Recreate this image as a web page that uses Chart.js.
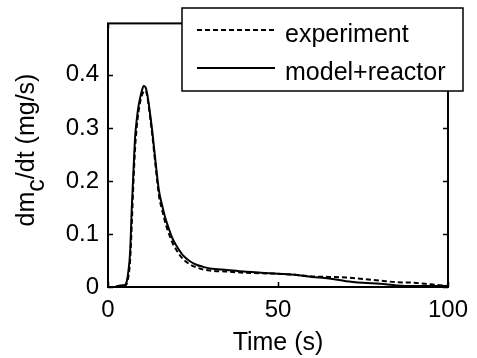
<!DOCTYPE html>
<html>
<head>
<meta charset="utf-8">
<script src="https://cdn.jsdelivr.net/npm/chart.js@4/dist/chart.umd.min.js"></script>
<style>
  html, body { margin: 0; padding: 0; background: #fff; }
  #wrap { width: 477px; height: 358px; }
</style>
</head>
<body>
<div id="wrap"><canvas id="chart" width="477" height="358"></canvas></div>
<script>
//data
const timeS = [0, 2, 3, 4, 5, 5.5, 6, 6.5, 7, 7.5, 8, 8.5, 9, 9.5, 10, 10.5, 11, 11.5, 12, 13, 14, 15, 16, 17, 18, 19, 20, 22, 24, 26, 28, 30, 35, 40, 45, 50, 55, 60, 65, 70, 75, 80, 85, 90, 95, 100];
const experiment = [0, 0, 0.002, 0.003, 0.003, 0.006, 0.02, 0.05, 0.12, 0.2, 0.265, 0.305, 0.332, 0.35, 0.362, 0.369, 0.37, 0.362, 0.34, 0.288, 0.228, 0.172, 0.143, 0.118, 0.099, 0.083, 0.071, 0.053, 0.043, 0.037, 0.033, 0.031, 0.029, 0.027, 0.026, 0.025, 0.023, 0.02, 0.019, 0.018, 0.015, 0.012, 0.009, 0.008, 0.005, 0.002];
const modelReactor = [0, 0, 0.002, 0.003, 0.004, 0.01, 0.03, 0.065, 0.15, 0.22, 0.285, 0.318, 0.342, 0.358, 0.371, 0.379, 0.377, 0.365, 0.345, 0.295, 0.235, 0.181, 0.152, 0.127, 0.108, 0.091, 0.079, 0.06, 0.049, 0.042, 0.038, 0.035, 0.032, 0.029, 0.027, 0.025, 0.023, 0.019, 0.016, 0.011, 0.008, 0.006, 0.003, 0.002, 0.002, 0.002];
const xTicks = [0, 50, 100];
const yTicks = [0, 0.1, 0.2, 0.3, 0.4];
const seriesNames = ["experiment", "model+reactor"];

const FONT = "'Liberation Sans', Arial, sans-serif";

function toPoints(ys) {
    return timeS.map((t, i) => ({ x: t, y: ys[i] }));
}

//frame, inward ticks, y title with subscript, legend box
const matlabLook = {
    id: "matlabLook",
    afterDraw(chart) {
        const ctx = chart.ctx;
        const a = chart.chartArea;
        const xs = chart.scales.x, ys = chart.scales.y;
        ctx.save();
        ctx.strokeStyle = "#000";
        ctx.lineWidth = 2;
        ctx.strokeRect(a.left, a.top, a.right - a.left, a.bottom - a.top);
        ctx.lineWidth = 1.5;
        ctx.beginPath();
        xTicks.forEach(v => {
            const p = Math.round(xs.getPixelForValue(v)) + 0.5;
            ctx.moveTo(p, a.bottom); ctx.lineTo(p, a.bottom - 5);
            ctx.moveTo(p, a.top); ctx.lineTo(p, a.top + 5);
        });
        yTicks.forEach(v => {
            const p = Math.round(ys.getPixelForValue(v)) + 0.5;
            ctx.moveTo(a.left, p); ctx.lineTo(a.left + 5, p);
            ctx.moveTo(a.right, p); ctx.lineTo(a.right - 5, p);
        });
        ctx.stroke();

        // y axis title: dm_c/dt (mg/s)
        ctx.fillStyle = "#000";
        ctx.font = "25px " + FONT;
        ctx.textBaseline = "alphabetic";
        ctx.textAlign = "left";
        const p1 = "dm", p2 = "c", p3 = "/dt (mg/s)";
        const w1 = ctx.measureText(p1).width, w2 = ctx.measureText(p2).width, w3 = ctx.measureText(p3).width;
        const total = w1 + w2 + w3;
        ctx.translate(34, 150);
        ctx.rotate(-Math.PI / 2);
        ctx.fillText(p1, -total / 2, 0);
        ctx.fillText(p2, -total / 2 + w1, 10);
        ctx.fillText(p3, -total / 2 + w1 + w2, 0);
        ctx.setTransform(1, 0, 0, 1, 0, 0);

        // legend
        const box = { l: 182, t: 8, r: 463, b: 91 };
        ctx.fillStyle = "#fff";
        ctx.fillRect(box.l, box.t, box.r - box.l, box.b - box.t);
        ctx.lineWidth = 1.5;
        ctx.strokeStyle = "#000";
        ctx.strokeRect(box.l, box.t, box.r - box.l, box.b - box.t);
        const rowY = [30, 68];
        chart.data.datasets.forEach((ds, i) => {
            ctx.beginPath();
            ctx.lineWidth = ds.borderWidth;
            ctx.setLineDash(ds.borderDash || []);
            ctx.moveTo(197, rowY[i]);
            ctx.lineTo(275, rowY[i]);
            ctx.stroke();
            ctx.setLineDash([]);
            ctx.fillStyle = "#000";
            ctx.font = "25px " + FONT;
            ctx.fillText(ds.label, 285, rowY[i] + 12);
        });
        ctx.restore();
    }
};

const chart = new Chart(document.getElementById("chart"), {
    type: "line",
    data: {
        datasets: [{
            label: seriesNames[0],
            data: toPoints(experiment),
            borderColor: "#000",
            borderWidth: 2,
            borderDash: [5, 3],
            pointRadius: 0,
            cubicInterpolationMode: "monotone"
        }, {
            label: seriesNames[1],
            data: toPoints(modelReactor),
            borderColor: "#000",
            borderWidth: 2,
            pointRadius: 0,
            cubicInterpolationMode: "monotone"
        }]
    },
    options: {
        responsive: false,
        animation: false,
        layout: { padding: { top: 12, right: 23, left: 0, bottom: 0 } },
        plugins: { legend: { display: false }, tooltip: { enabled: false } },
        scales: {
            x: {
                type: "linear",
                min: 0,
                max: 100,
                grid: { display: false, drawTicks: false },
                border: { display: false },
                afterBuildTicks: s => { s.ticks = xTicks.map(v => ({ value: v })); },
                afterFit: s => { s.height = 71; },
                ticks: { color: "#000", padding: 9, maxRotation: 0, font: { family: FONT, size: 24 }, callback: v => String(v) },
                title: { display: true, text: "Time (s)", color: "#000", padding: { top: 0, bottom: 0 }, font: { family: FONT, size: 25 } }
            },
            y: {
                min: 0,
                max: 0.497,
                grid: { display: false, drawTicks: false },
                border: { display: false },
                afterBuildTicks: s => { s.ticks = yTicks.map(v => ({ value: v })); },
                afterFit: s => { s.width = 108; },
                ticks: { color: "#000", padding: 9, font: { family: FONT, size: 24 }, callback: v => String(v) }
            }
        }
    },
    plugins: [matlabLook]
});
</script>
</body>
</html>
